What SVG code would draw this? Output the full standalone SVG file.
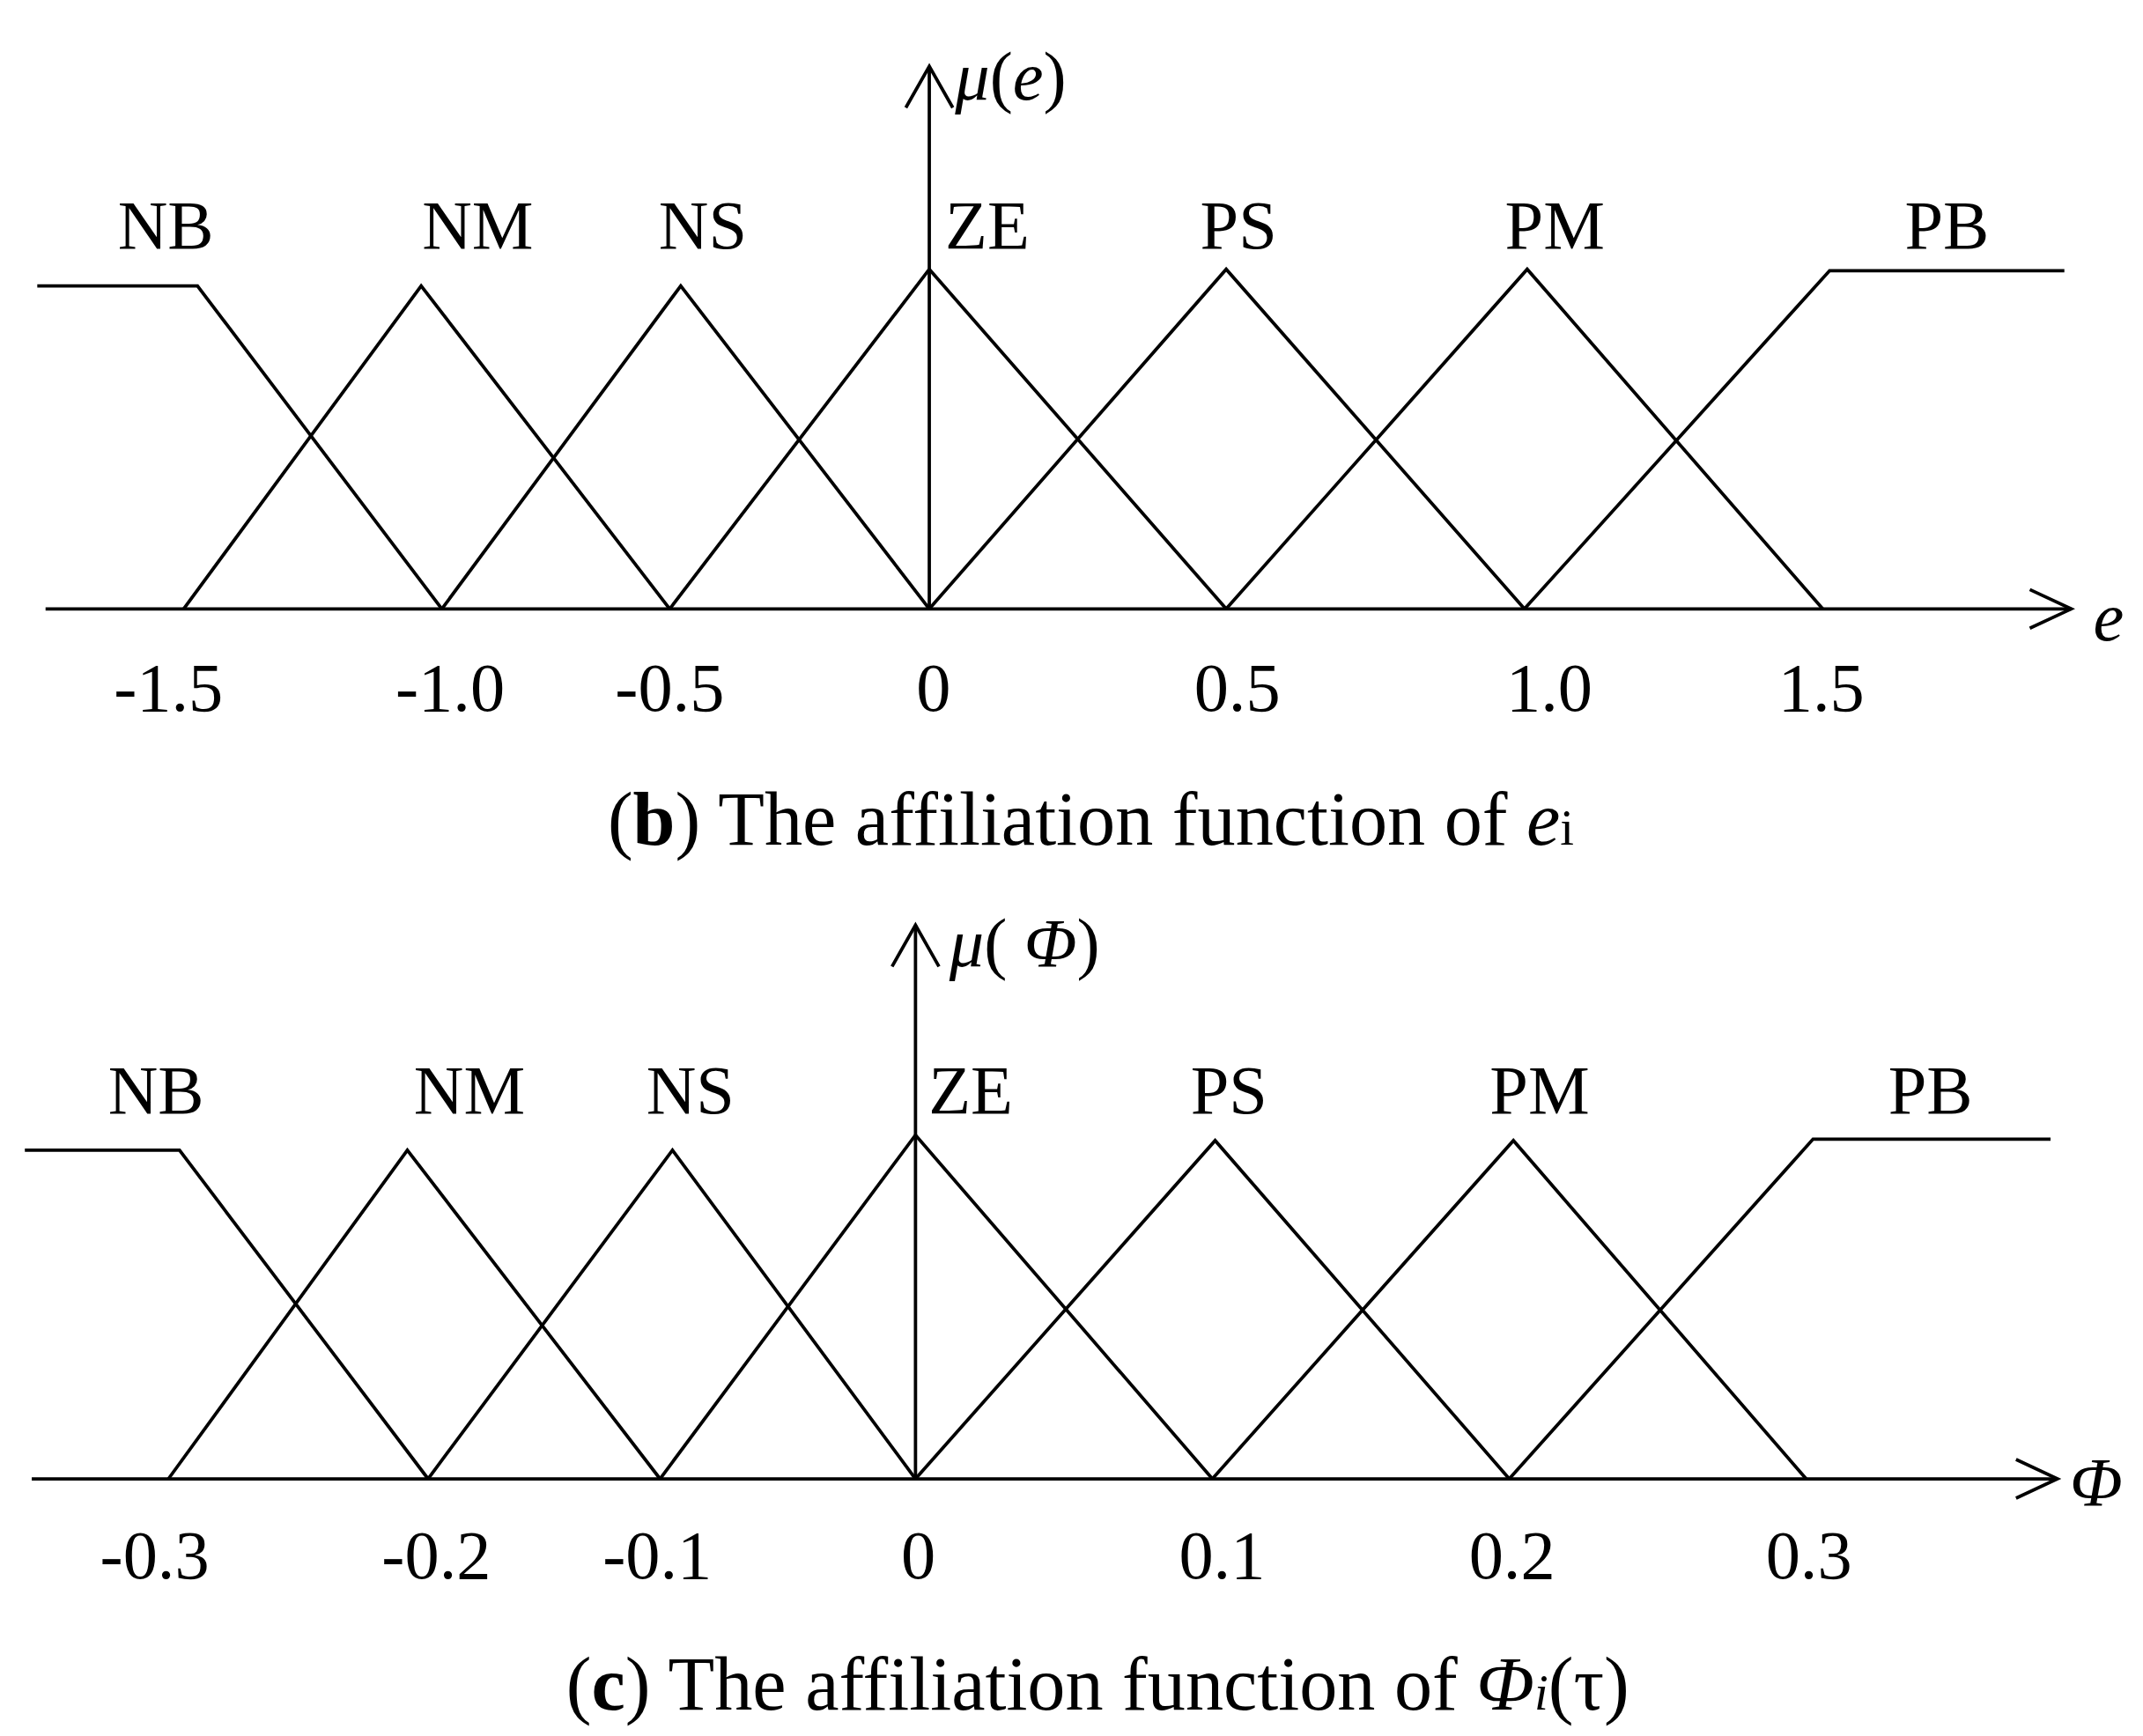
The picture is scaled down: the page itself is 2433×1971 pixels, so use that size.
<svg xmlns="http://www.w3.org/2000/svg" width="2433" height="1971" viewBox="0 0 2433 1971">
<style>
.l{fill:none;stroke:#000;stroke-width:2.4;stroke-linejoin:miter}
.t{font-family:"Liberation Serif",serif;font-size:50px;text-anchor:middle;fill:#000}
.i{font-style:italic}
.c{font-family:"Liberation Serif",serif;font-size:55px;text-anchor:middle;fill:#000}
</style>
<rect width="2433" height="1971" fill="#fff"/>
<g transform="scale(1.5677)">
<g id="connectors">
<polyline class="l" points="33,441 1500,441"/>
<polyline class="l" points="1470,427 1500,441 1470,455"/>
<polyline class="l" points="673,441 673,48"/>
<polyline class="l" points="656,78 673,48 690,78"/>
<polyline class="l" points="23,1071 1490,1071"/>
<polyline class="l" points="1460,1057 1490,1071 1460,1085"/>
<polyline class="l" points="663,1071 663,670"/>
<polyline class="l" points="646,700 663,670 680,700"/>
</g>
<g id="top-sets">
<polyline id="b-NB" class="l" points="27,207 143,207 320,441"/>
<polyline id="b-NM" class="l" points="133,441 305,207 485,441"/>
<polyline id="b-NS" class="l" points="320,441 493,207 673,441"/>
<polyline id="b-ZE" class="l" points="485,441 673,195 888,441"/>
<polyline id="b-PS" class="l" points="673,441 888,195 1104,441"/>
<polyline id="b-PM" class="l" points="888,441 1106,195 1320,441"/>
<polyline id="b-PB" class="l" points="1104,441 1325,196 1495,196"/>
</g>
<g id="top-text">
<text class="t" x="120" y="180">NB</text>
<text class="t" x="346" y="180">NM</text>
<text class="t" x="509" y="180">NS</text>
<text class="t" x="715" y="180">ZE</text>
<text class="t" x="897" y="180">PS</text>
<text class="t" x="1126" y="180">PM</text>
<text class="t" x="1410" y="180">PB</text>
<text class="t" x="122" y="515">-1.5</text>
<text class="t" x="326" y="515">-1.0</text>
<text class="t" x="485" y="515">-0.5</text>
<text class="t" x="676" y="515">0</text>
<text class="t" x="896" y="515">0.5</text>
<text class="t" x="1122" y="515">1.0</text>
<text class="t" x="1319" y="515">1.5</text>
<text class="t" x="732" y="72"><tspan class="i">μ</tspan>(<tspan class="i">e</tspan>)</text>
<text class="t i" x="1527" y="464">e</text>
<text class="c" x="790" y="612">(<tspan font-weight="bold">b</tspan>) The affiliation function of <tspan class="i">e</tspan><tspan font-size="36">i</tspan></text>
</g>
<g id="bottom-sets">
<polyline id="c-NB" class="l" points="18,833 130,833 310,1071"/>
<polyline id="c-NM" class="l" points="122,1071 295,833 478,1071"/>
<polyline id="c-NS" class="l" points="310,1071 487,833 663,1071"/>
<polyline id="c-ZE" class="l" points="478,1071 663,822 878,1071"/>
<polyline id="c-PS" class="l" points="663,1071 880,826 1093,1071"/>
<polyline id="c-PM" class="l" points="878,1071 1096,826 1308,1071"/>
<polyline id="c-PB" class="l" points="1093,1071 1313,825 1485,825"/>
</g>
<g id="bottom-text">
<text class="t" x="113" y="806">NB</text>
<text class="t" x="340" y="806">NM</text>
<text class="t" x="500" y="806">NS</text>
<text class="t" x="703" y="806">ZE</text>
<text class="t" x="890" y="806">PS</text>
<text class="t" x="1115" y="806">PM</text>
<text class="t" x="1398" y="806">PB</text>
<text class="t" x="112" y="1143">-0.3</text>
<text class="t" x="316" y="1143">-0.2</text>
<text class="t" x="476" y="1143">-0.1</text>
<text class="t" x="665" y="1143">0</text>
<text class="t" x="885" y="1143">0.1</text>
<text class="t" x="1095" y="1143">0.2</text>
<text class="t" x="1310" y="1143">0.3</text>
<text class="t" x="742" y="700"><tspan class="i">μ</tspan>( <tspan class="i">Φ</tspan>)</text>
<text class="t i" x="1518" y="1090" font-size="44">Φ</text>
<text class="c" x="795" y="1238">(<tspan font-weight="bold">c</tspan>) The affiliation function of <tspan class="i">Φ</tspan><tspan class="i" font-size="36">i</tspan>(τ)</text>
</g>
</g>
</svg>
